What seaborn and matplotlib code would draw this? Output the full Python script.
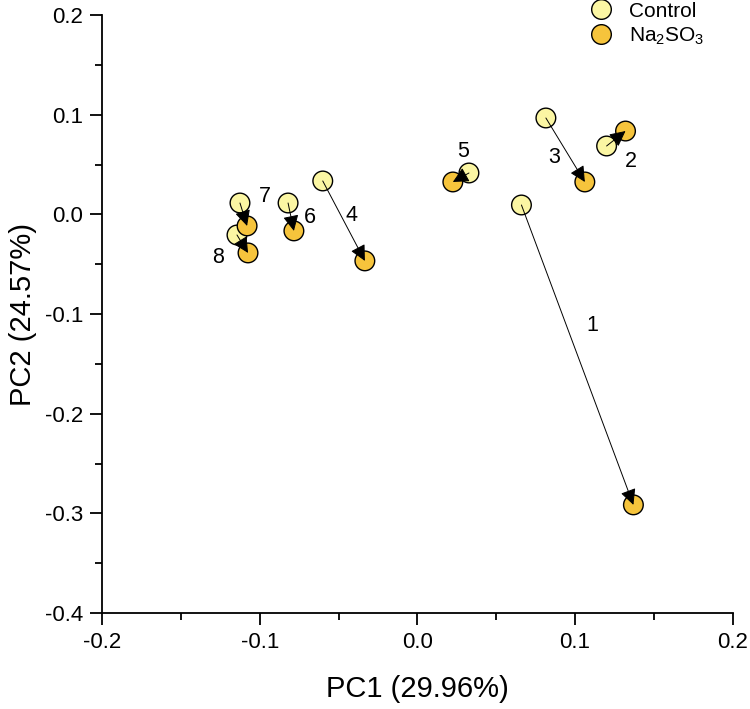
import numpy as np
import pandas as pd
import matplotlib
matplotlib.use("Agg")
import matplotlib.pyplot as plt
import seaborn as sns

# pares de amostras (1-8): controle -> Na2SO3
amostras = ['1', '2', '3', '4', '5', '6', '7', '8']
ctrl_pc1 = [0.066, 0.120, 0.0815, -0.060, 0.0327, -0.082, -0.1125, -0.1144]
ctrl_pc2 = [0.0094, 0.0686, 0.0967, 0.0335, 0.0415, 0.0114, 0.0114, -0.0207]
na_pc1 = [0.137, 0.132, 0.1062, -0.0333, 0.0225, -0.0783, -0.108, -0.1074]
na_pc2 = [-0.2915, 0.0836, 0.0325, -0.0467, 0.0325, -0.0166, -0.0116, -0.0387]

# posicao dos rotulos numericos
rot_pc1 = [0.111, 0.1353, 0.0865, -0.0415, 0.0288, -0.068, -0.0967, -0.1265]
rot_pc2 = [-0.112, 0.0526, 0.0566, -0.0016, 0.0626, -0.0036, 0.0175, -0.0437]

grupos = ['Control', 'Na$_2$SO$_3$']
cores = ['#FBF6A3', '#F6C43C']

df = pd.DataFrame({
    'PC1': ctrl_pc1 + na_pc1,
    'PC2': ctrl_pc2 + na_pc2,
    'Grupo': [grupos[0]] * len(amostras) + [grupos[1]] * len(amostras),
})

sns.set_style('ticks')
plt.rcParams['font.family'] = ['Liberation Sans', 'DejaVu Sans']
plt.rcParams['axes.unicode_minus'] = False
plt.rcParams['mathtext.fontset'] = 'custom'
plt.rcParams['mathtext.rm'] = 'Liberation Sans'
for chave in ['text.color', 'axes.labelcolor', 'xtick.color', 'ytick.color', 'axes.edgecolor']:
    plt.rcParams[chave] = 'black'

fig = plt.figure(figsize=(7.5, 7.09), dpi=100)
ax = fig.add_axes([0.136, 0.1354, 0.841, 0.8434])

sns.scatterplot(data=df, x='PC1', y='PC2', hue='Grupo', hue_order=grupos,
                palette=dict(zip(grupos, cores)), s=200, edgecolor='black',
                linewidth=1.0, ax=ax, zorder=3)

# setas controle -> tratado
for i in range(len(amostras)):
    ax.annotate('', xy=(na_pc1[i], na_pc2[i]), xytext=(ctrl_pc1[i], ctrl_pc2[i]),
                arrowprops=dict(arrowstyle='-|>', color='black', lw=0.7,
                                mutation_scale=24, shrinkA=0, shrinkB=0),
                zorder=4)
    ax.text(rot_pc1[i], rot_pc2[i], amostras[i], fontsize=15.5,
            ha='center', va='center')

ax.set_xlim(-0.2, 0.2)
ax.set_ylim(-0.4, 0.2)
ax.set_xticks([-0.2, -0.1, 0.0, 0.1, 0.2])
ax.set_yticks([-0.4, -0.3, -0.2, -0.1, 0.0, 0.1, 0.2])
ax.set_xticks(np.arange(-0.15, 0.2, 0.1), minor=True)
ax.set_yticks(np.arange(-0.35, 0.2, 0.1), minor=True)
ax.xaxis.set_major_formatter(matplotlib.ticker.FormatStrFormatter('%.1f'))
ax.yaxis.set_major_formatter(matplotlib.ticker.FormatStrFormatter('%.1f'))
ax.tick_params(axis='both', which='major', labelsize=16, length=8.5, width=1.3, pad=5)
ax.tick_params(axis='both', which='minor', length=5, width=1.3)
for lado in ['left', 'bottom']:
    ax.spines[lado].set_linewidth(1.3)
sns.despine(ax=ax)

ax.set_xlabel('PC1 (29.96%)', fontsize=21, labelpad=16)
ax.set_ylabel('PC2 (24.57%)', fontsize=21, labelpad=6)

ax.legend(title=None, frameon=False, fontsize=15, loc='upper left',
          bbox_to_anchor=(0.749, 1.024), bbox_transform=fig.transFigure,
          handletextpad=0.35, labelspacing=0.22, markerscale=1.0)

fig.savefig('out.png', dpi=100)
